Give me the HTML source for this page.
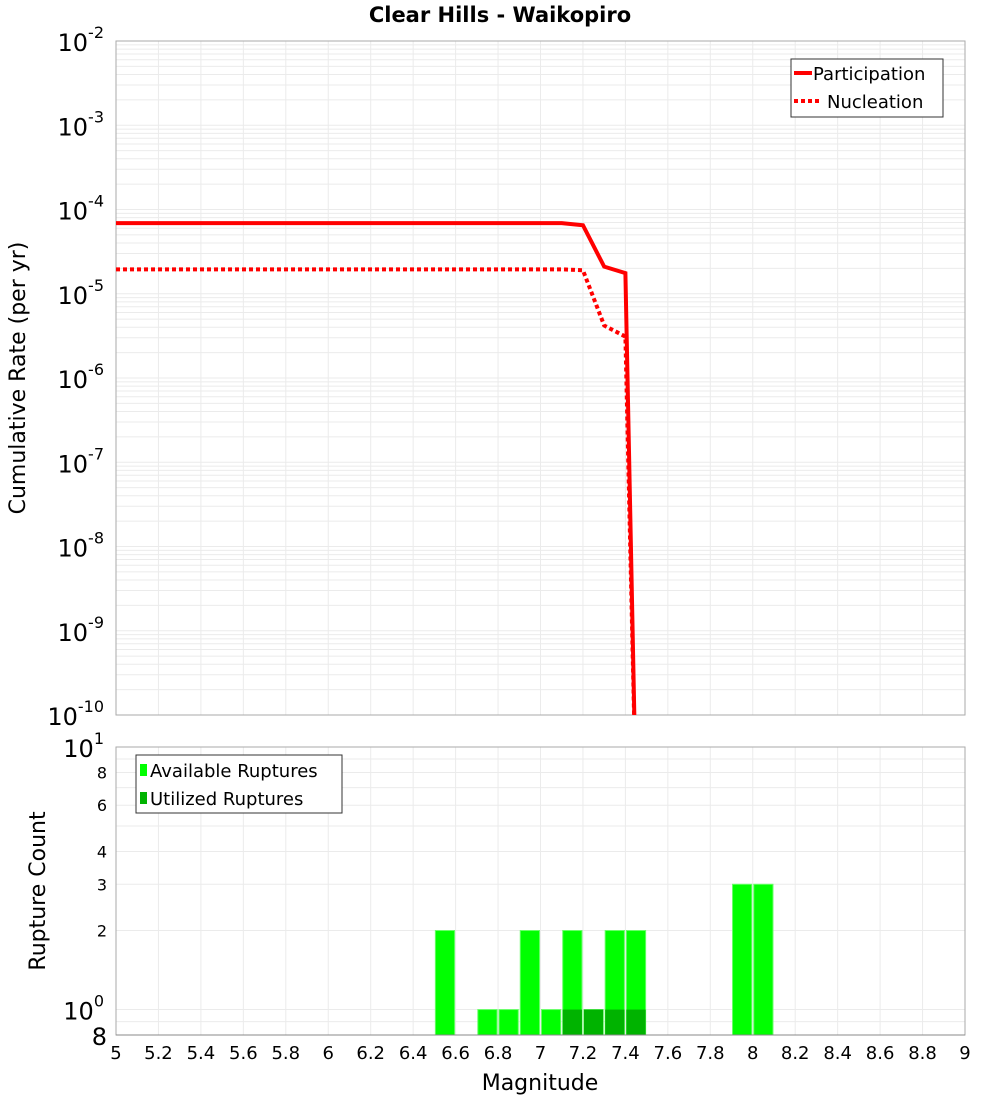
<!DOCTYPE html>
<html><head><meta charset="utf-8"><style>
body{margin:0;background:#fff;}
svg text{font-family:"DejaVu Sans","Liberation Sans",sans-serif;}
</style></head><body>
<svg id="c" width="1000" height="1100" xmlns="http://www.w3.org/2000/svg">
<text x="500" y="22" text-anchor="middle" font-size="21" font-weight="bold">Clear Hills - Waikopiro</text>
<g id="topg"></g><g id="botg"></g>
</svg>
<script>
const partMags=[5.0,5.1,5.2,5.3,5.4,5.5,5.6,5.7,5.8,5.9,6.0,6.1,6.2,6.3,6.4,6.5,6.6,6.7,6.8,6.9,7.0,7.1,7.2,7.3,7.4,7.45];
const partRates=[6.9e-5,6.9e-5,6.9e-5,6.9e-5,6.9e-5,6.9e-5,6.9e-5,6.9e-5,6.9e-5,6.9e-5,6.9e-5,6.9e-5,6.9e-5,6.9e-5,6.9e-5,6.9e-5,6.9e-5,6.9e-5,6.9e-5,6.9e-5,6.9e-5,6.9e-5,6.5e-5,2.1e-5,1.76e-5,1e-11];
const nuclMags=[5.0,5.1,5.2,5.3,5.4,5.5,5.6,5.7,5.8,5.9,6.0,6.1,6.2,6.3,6.4,6.5,6.6,6.7,6.8,6.9,7.0,7.1,7.2,7.3,7.4,7.45];
const nuclRates=[1.95e-5,1.95e-5,1.95e-5,1.95e-5,1.95e-5,1.95e-5,1.95e-5,1.95e-5,1.95e-5,1.95e-5,1.95e-5,1.95e-5,1.95e-5,1.95e-5,1.95e-5,1.95e-5,1.95e-5,1.95e-5,1.95e-5,1.95e-5,1.95e-5,1.95e-5,1.9e-5,4.2e-6,3.1e-6,1e-11];
const binMags=[6.55,6.75,6.85,6.95,7.05,7.15,7.25,7.35,7.45,7.95,8.05];
const availCounts=[2,1,1,2,1,2,1,2,2,3,3];
const usedCounts=[0,0,0,0,0,1,1,1,1,0,0];
const xTicks=[5,5.2,5.4,5.6,5.8,6,6.2,6.4,6.6,6.8,7,7.2,7.4,7.6,7.8,8,8.2,8.4,8.6,8.8,9];
const xTickLabels=["5","5.2","5.4","5.6","5.8","6","6.2","6.4","6.6","6.8","7","7.2","7.4","7.6","7.8","8","8.2","8.4","8.6","8.8","9"];
const topExps=[-2,-3,-4,-5,-6,-7,-8,-9,-10];
const botTicks=[10,8,6,4,3,2,1,0.8];

const NS="http://www.w3.org/2000/svg";
function mk(p,t,a,txt){const e=document.createElementNS(NS,t);for(const k in a)e.setAttribute(k,a[k]);if(txt!==undefined)e.textContent=txt;p.appendChild(e);return e;}
const L=116,R=965;
const X=m=>L+(m-5)/4*(R-L);
const T0=41,T1=715;
const Yt=v=>T0+(-2-Math.log10(v))/8*(T1-T0);
const B0=747,B1=1035;
const Yb=v=>B0+(1-Math.log10(v))/(1-Math.log10(0.8))*(B1-B0);
const topG=document.getElementById('topg'),botG=document.getElementById('botg');

let g=mk(topG,'g',{});


for(let e=-10;e<-2;e++)for(let k=1;k<10;k++){const y=Yt(k*Math.pow(10,e));mk(g,'line',{x1:L,x2:R,y1:y,y2:y,stroke:'#ebebeb','stroke-width':1});}
xTicks.forEach(m=>mk(g,'line',{x1:X(m),x2:X(m),y1:T0,y2:T1,stroke:'#ebebeb'}));
let fr=mk(topG,'rect',{x:L,y:T0,width:R-L,height:T1-T0,fill:'none',stroke:'#aaa'});


topExps.forEach(e=>{const y=Yt(Math.pow(10,e));const t=mk(topG,'text',{x:104,y:y+10,'text-anchor':'end','font-size':24});


t.innerHTML='10<tspan dy="-13" font-size="16">'+e+'</tspan>';});
let yt=mk(topG,'text',{x:0,y:0,'font-size':22,'text-anchor':'middle',transform:'translate(25,378) rotate(-90)'},'Cumulative Rate (per yr)');


const cp=mk(topG,'clipPath',{id:'cp'});
mk(cp,'rect',{x:L,y:T0,width:R-L,height:T1-T0});
let pl=mk(topG,'polyline',{points:partMags.map((m,i)=>X(m)+','+Yt(partRates[i])).join(' '),fill:'none',stroke:'#ff0000','stroke-width':4,'clip-path':'url(#cp)'});


let nl=mk(topG,'polyline',{points:nuclMags.map((m,i)=>X(m)+','+Yt(nuclRates[i])).join(' '),fill:'none',stroke:'#ff0000','stroke-width':4,'stroke-dasharray':'4 3','clip-path':'url(#cp)'});


let lg=mk(topG,'g',{});


mk(lg,'rect',{x:791,y:59,width:152,height:58,fill:'#fff',stroke:'#333'});
mk(lg,'line',{x1:794,x2:812,y1:73,y2:73,stroke:'#f00','stroke-width':4});
mk(lg,'text',{x:813,y:80,'font-size':18},'Participation');
mk(lg,'line',{x1:794,x2:822,y1:101,y2:101,stroke:'#f00','stroke-width':4,'stroke-dasharray':'4 3'});
mk(lg,'text',{x:827,y:108,'font-size':18},'Nucleation');

let g2=mk(botG,'g',{});


[0.8,0.9,1,2,3,4,5,6,7,8,9,10].forEach(v=>{const y=Yb(v);mk(g2,'line',{x1:L,x2:R,y1:y,y2:y,stroke:'#ebebeb'});});
xTicks.forEach(m=>mk(g2,'line',{x1:X(m),x2:X(m),y1:B0,y2:B1,stroke:'#ebebeb'}));
binMags.forEach((m,i)=>{const x0=X(m-0.05)+1,x1=X(m+0.05)-1;
 const r=mk(botG,'rect',{x:x0,y:Yb(availCounts[i]),width:x1-x0,height:B1-Yb(availCounts[i]),fill:'#00ff00',stroke:'#66ff66','stroke-width':1});
 
 
 if(usedCounts[i]>0){const u=mk(botG,'rect',{x:x0,y:Yb(usedCounts[i]),width:x1-x0,height:B1-Yb(usedCounts[i]),fill:'#00b300'});
 
 }
});
let fr2=mk(botG,'rect',{x:L,y:B0,width:R-L,height:B1-B0,fill:'none',stroke:'#aaa'});


mk(botG,'line',{x1:L,x2:R,y1:B1,y2:B1,stroke:'#888'});
botTicks.forEach(v=>{const y=Yb(v);let t;
 if(v===10){t=mk(botG,'text',{x:104,y:y+10,'text-anchor':'end','font-size':24});t.innerHTML='10<tspan dy="-13" font-size="16">1</tspan>';}
 else if(v===1){t=mk(botG,'text',{x:104,y:y+10,'text-anchor':'end','font-size':24});t.innerHTML='10<tspan dy="-13" font-size="16">0</tspan>';}
 else if(v===0.8){t=mk(botG,'text',{x:107,y:y+10,'text-anchor':'end','font-size':24},'8');}
 else t=mk(botG,'text',{x:107,y:y+6,'text-anchor':'end','font-size':16},String(v));
 
 });
xTicks.forEach((m,i)=>{const t=mk(botG,'text',{x:X(m),y:1059,'text-anchor':'middle','font-size':18},xTickLabels[i]);
 
 });
let xt=mk(botG,'text',{x:540,y:1090,'text-anchor':'middle','font-size':22},'Magnitude');


let yt2=mk(botG,'text',{x:0,y:0,'font-size':22,'text-anchor':'middle',transform:'translate(45,891) rotate(-90)'},'Rupture Count');


let lg2=mk(botG,'g',{});


mk(lg2,'rect',{x:136,y:755,width:206,height:58,fill:'#fff',stroke:'#333'});
mk(lg2,'rect',{x:140,y:764,width:7,height:12,fill:'#00ff00'});
mk(lg2,'text',{x:150,y:777,'font-size':18},'Available Ruptures');
mk(lg2,'rect',{x:140,y:792,width:7,height:12,fill:'#00b300'});
mk(lg2,'text',{x:150,y:805,'font-size':18},'Utilized Ruptures');
</script>
</body></html>
